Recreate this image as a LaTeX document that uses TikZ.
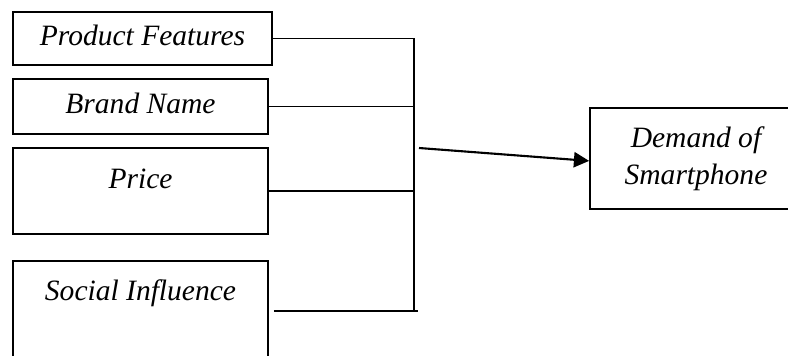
\documentclass[tikz,border=0pt]{standalone}
\usepackage{fontspec}
\setmainfont{Liberation Serif}
\usepackage{tikz}
\usetikzlibrary{arrows.meta}

\tikzset{
  box/.style={draw, line width=1.2pt, rectangle, inner sep=0pt,
    font=\fontsize{21}{26}\selectfont\itshape},
  factor/.style={box, text height=0.5cm, text depth=0.15cm},
  link/.style={line width=1.1pt}
}

\begin{document}
\begin{tikzpicture}[x=0.025cm, y=-0.025cm]
			\useasboundingbox (0,0) rectangle (788,355);

			% factor boxes
			\node[factor, minimum width=6.475cm, minimum height=1.325cm] (feat) at (142.5,38.5) {Product Features};
			\node[factor, minimum width=6.375cm, minimum height=1.375cm] (brand) at (140.5,106.5) {Brand Name};
			\node[factor, minimum width=6.375cm, minimum height=2.15cm, text depth=0.63cm] (price) at (140.5,191) {Price};
			\node[factor, minimum width=6.375cm, minimum height=2.5cm, text depth=1.03cm] (infl) at (140.5,311) {Social Influence};

			% outcome box
			\node[box, align=center, minimum width=5.3cm, minimum height=2.525cm] (demand) at (696,158.5) {Demand of\\Smartphone};

			% joining line
			\coordinate (bus) at (414,0);
			\coordinate (out) at (419,148);
			\draw[link] (feat.east) -- (feat.east -| bus) -- (infl.east -| bus);
			\foreach \n in {brand,price} {
					\draw[link] (\n.east) -- (\n.east -| bus);
				}
			\draw[link, shorten <=0.125cm] (infl.east) -- ([xshift=0.1cm]infl.east -| bus);

			% arrow to outcome
			\draw[line width=1.5pt, -{Triangle[length=0.38cm, width=0.38cm]}] (out) -- ([yshift=-0.06cm]demand.west);
		\end{tikzpicture}
\end{document}
